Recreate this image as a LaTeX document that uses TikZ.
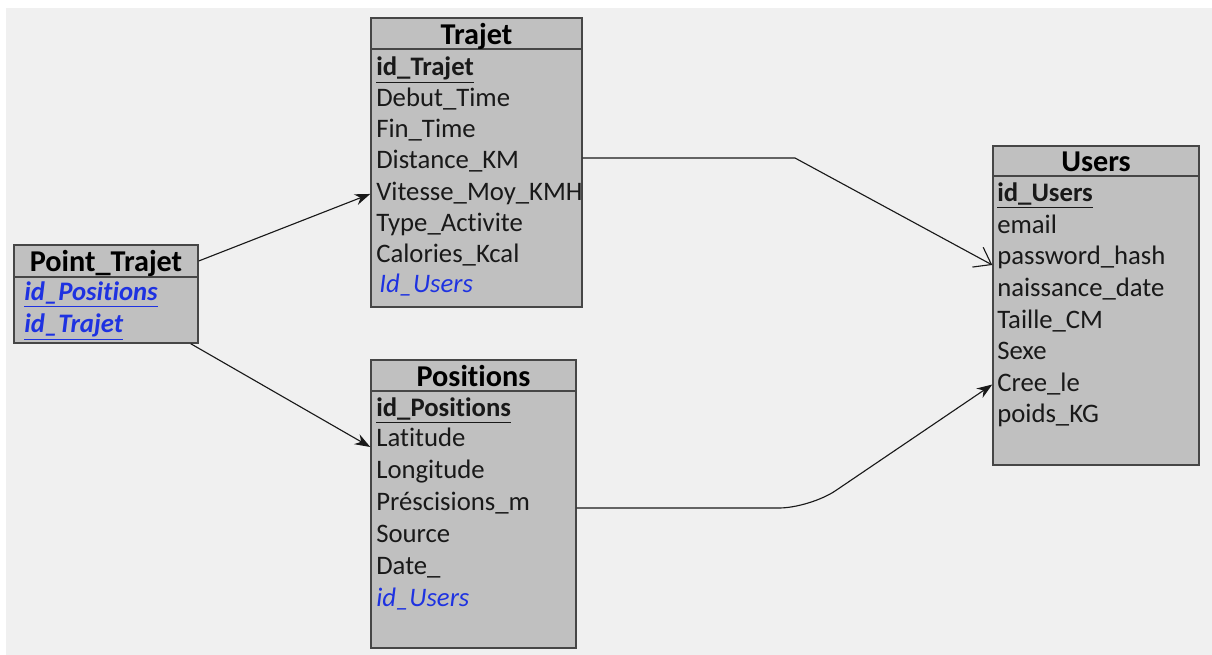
\documentclass[tikz,border=0pt]{standalone}
\usepackage{fontspec}
\setmainfont{Carlito}[Ligatures=NoCommon]
\usetikzlibrary{arrows.meta,calc}
\definecolor{canvasgrey}{RGB}{240,240,240}
\definecolor{tablegrey}{RGB}{192,192,192}
\definecolor{framegrey}{RGB}{70,70,70}
\definecolor{keyblue}{RGB}{30,50,225}

\begin{document}
\begin{tikzpicture}
  [x=0.025cm,y=-0.025cm,
   entity/.style={draw=framegrey,fill=tablegrey,line width=1pt,inner sep=0pt},
   entityhead/.style={entity,text height=15pt,text depth=0pt,font=\fontsize{21.5}{24}\selectfont\bfseries},
   field/.style={anchor=base west,inner sep=0pt,text=black!90,font=\fontsize{19}{22}\selectfont},
   pkey/.style={field,font=\fontsize{19}{22}\selectfont\bfseries},
   fkey/.style={field,text=keyblue,font=\fontsize{19}{22}\selectfont\itshape},
   link/.style={draw=black!90,line width=0.8pt}]

  \useasboundingbox (0,0) rectangle (1212,655);
  \fill[white] (0,0) rectangle (1212,655);
  \fill[canvasgrey] (6,8) rectangle (1212,655);

  % tables
  \node[entity,minimum width=4.6cm,minimum height=2.45cm] (point) at (106,294) {};
  \node[entityhead,minimum width=4.6cm,minimum height=0.8cm,anchor=north] (pointhead) at (point.north) {Point\_Trajet};
  \node[entity,minimum width=5.275cm,minimum height=7.225cm] (trajet) at (476.5,162.5) {};
  \node[entityhead,minimum width=5.275cm,minimum height=0.775cm,anchor=north] (trajethead) at (trajet.north) {Trajet};
  \node[entity,minimum width=5.125cm,minimum height=7.2cm] (positions) at (473.5,504) {};
  \node[entityhead,minimum width=5.125cm,minimum height=0.775cm,anchor=north] (positionshead) at (positions.north) {Positions};
  \node[entity,minimum width=5.15cm,minimum height=7.975cm] (users) at (1096,305.5) {};
  \node[entityhead,minimum width=5.15cm,minimum height=0.75cm,anchor=north] (usershead) at (users.north) {Users};

  % Point_Trajet
  \node[fkey,font=\fontsize{19}{22}\selectfont\bfseries\itshape] (pidpos) at (24,301) {\underline{id\_Positions}};
  \node[fkey,font=\fontsize{19}{22}\selectfont\bfseries\itshape] (pidtrajet) at (24,333) {\underline{id\_Trajet}};

  % Trajet
  \node[pkey] (idtrajet) at (376,76) {\underline{id\_Trajet}};
  \node[field] (debut) at (376,107) {Debut\_Time};
  \node[field] (fin) at (376,138) {Fin\_Time};
  \node[field] (distance) at (376,169) {Distance\_KM};
  \node[field] (vitesse) at (376,201) {Vitesse\_Moy\_KMH};
  \node[field] (type) at (376,232) {Type\_Activite};
  \node[field] (calories) at (376,263) {Calories\_Kcal};
  \node[fkey] (tiduser) at (379,293) {Id\_Users};

  % Positions
  \node[pkey] (idpositions) at (376,417) {\underline{id\_Positions}};
  \node[field] (latitude) at (376,447) {Latitude};
  \node[field] (longitude) at (376,479) {Longitude};
  \node[field] (precision) at (376,511) {Préscisions\_m};
  \node[field] (source) at (376,543) {Source};
  \node[field] (date) at (376,575) {Date\_};
  \node[fkey] (piduser) at (376,606) {id\_Users};

  % Users
  \node[pkey] (idusers) at (997,202) {\underline{id\_Users}};
  \node[field] (email) at (997,234) {email};
  \node[field] (password) at (997,265) {password\_hash};
  \node[field] (naissance) at (997,297) {naissance\_date};
  \node[field] (taille) at (997,329) {Taille\_CM};
  \node[field] (sexe) at (997,360) {Sexe};
  \node[field] (cree) at (997,392) {Cree\_le};
  \node[field] (poids) at (997,423) {poids\_KG};

  % links
  \coordinate (bend1) at (795,158);
  \coordinate (bend2) at (810,508);
  \draw[link,-{Stealth[length=11pt,width=8pt]}] (pointhead.east) -- (trajet.west |- vitesse);
  \draw[link,-{Stealth[length=11pt,width=8pt]}] ($(point.south east)+(-8,0)$) -- (positions.west |- latitude.base);
  \draw[link,-{Straight Barb[length=11pt,width=16pt]}] (trajet.east |- bend1) -- (bend1) -- (users.west |- password.base);
  \draw[link,rounded corners=22pt,-{Stealth[length=11pt,width=8pt]}] (positions.east |- bend2) -- (bend2) -- (users.west |- cree);
\end{tikzpicture}
\end{document}
